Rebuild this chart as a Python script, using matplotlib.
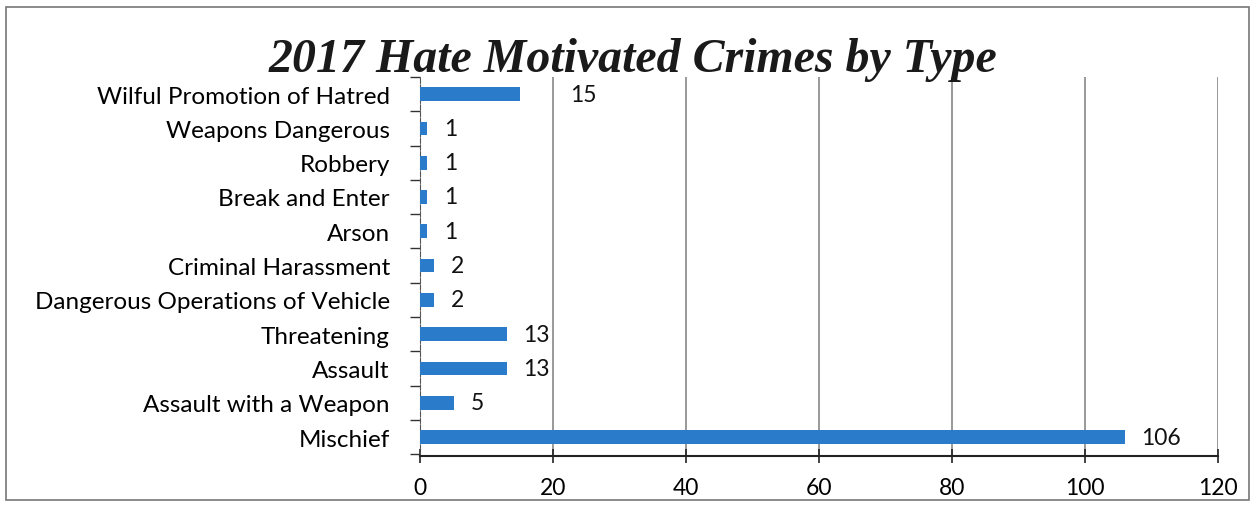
import matplotlib
matplotlib.use('Agg')
from matplotlib import pyplot as plt
import numpy as np

crime_types = ['Wilful Promotion of Hatred', 'Weapons Dangerous', 'Robbery', 'Break and Enter',
               'Arson', 'Criminal Harassment', 'Dangerous Operations of Vehicle', 'Threatening',
               'Assault', 'Assault with a Weapon', 'Mischief']
counts = [15, 1, 1, 1, 1, 2, 2, 13, 13, 5, 106]
x_ticks = [0, 20, 40, 60, 80, 100, 120]

label_font = 'Lato'
bar_color = '#2a7ccb'

fig = plt.figure(figsize=[12.55, 5.06], dpi=100)
ax = fig.add_axes([0.335, 0.097, 0.6355, 0.749])

pos = np.arange(len(crime_types))
ax.barh(pos, counts, height=0.4, color=bar_color, zorder=3)

for i, v in enumerate(counts):
    # the 15 label sits further out in the original
    off = 36 if i == 0 else 12
    ax.annotate(str(v), (v, i), xytext=(off, 0), textcoords='offset points',
                va='center', ha='left', fontsize=16.5, family=label_font, color='#111111')

ax.set_xlim(0, 120)
ax.set_ylim(len(crime_types) - 0.45, -0.5)
ax.set_xticks(x_ticks)
ax.set_xticklabels([str(t) for t in x_ticks], fontsize=16.5, family=label_font)
ax.set_yticks(pos)
ax.set_yticklabels(crime_types, fontsize=17.5, family=label_font)
ax.set_yticks(np.arange(len(crime_types) + 1) - 0.5, minor=True)

ax.grid(axis='x', color='#888888', linewidth=1.2, zorder=0)
ax.tick_params(axis='y', which='major', length=0, pad=22)
ax.tick_params(axis='y', which='minor', length=7, width=1, color='#333333')
ax.tick_params(axis='x', length=10, width=1.2, direction='inout', pad=10, color='#222222')

for s in ['top', 'right']:
    ax.spines[s].set_visible(False)
ax.spines['left'].set_color('#555555')
ax.spines['left'].set_linestyle((0, (4, 2)))
ax.spines['bottom'].set_color('#222222')
ax.spines['bottom'].set_linewidth(1.5)

fig.text(0.504, 0.882, '2017 Hate Motivated Crimes by Type', ha='center', va='center',
         fontsize=34.5, family='Liberation Serif', weight='bold', style='italic', color='#1a1a1a')

# border of the chart area
fig.patches.append(plt.Rectangle((0.005, 0.01), 0.99, 0.975, transform=fig.transFigure,
                                 fill=False, edgecolor='#777777', linewidth=1.2))

plt.savefig('out.png', dpi=100)
plt.close()
